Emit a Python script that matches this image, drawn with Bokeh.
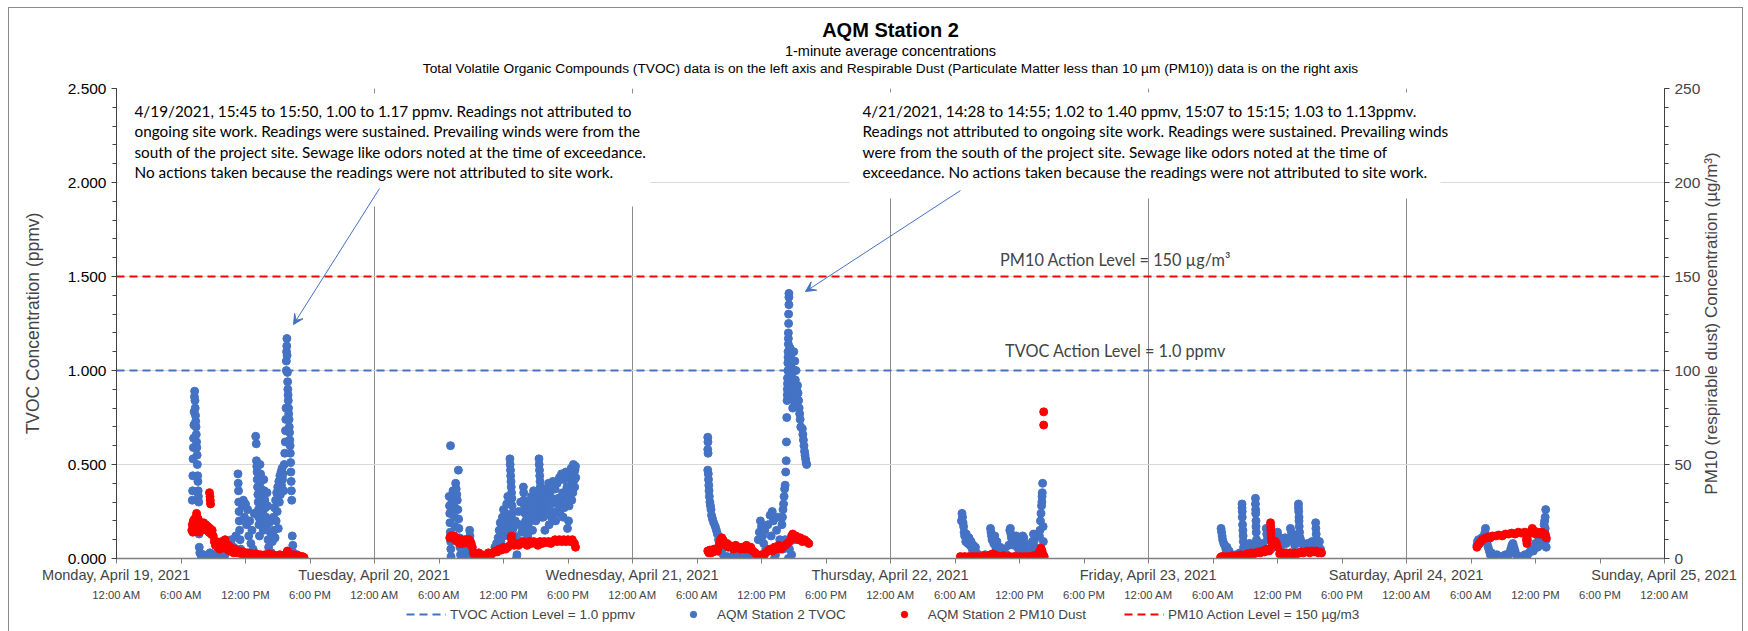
import math
from bokeh.plotting import figure
from bokeh.layouts import column
from bokeh.models import (Range1d, LinearAxis, FixedTicker, NumeralTickFormatter, Title,
                          Legend, LegendItem, Label, Arrow, VeeHead, BoxAnnotation)
from bokeh.embed import file_html
from bokeh.resources import INLINE

# ---------------- data ----------------
day_labels = ["Monday, April 19, 2021", "Tuesday, April 20, 2021", "Wednesday, April 21, 2021",
              "Thursday, April 22, 2021", "Friday, April 23, 2021", "Saturday, April 24, 2021",
              "Sunday, April 25, 2021"]
time_labels = ["12:00 AM", "6:00 AM", "12:00 PM", "6:00 PM"]
tvoc_action_level = 1.0      # ppmv
pm10_action_level = 150      # ug/m3

# (hour of day, TVOC ppmv)
tvoc_mon = [(7.05,0.31),(7.08,0.36),(7.1,0.44),(7.12,0.53),(7.15,0.59),(7.17,0.64),(7.2,0.71),(7.22,0.78),(7.25,0.86),(7.27,0.89),(7.3,0.84),(7.32,0.80),(7.35,0.76),(7.37,0.73),(7.4,0.70),(7.42,0.66),(7.45,0.62),(7.47,0.59),(7.5,0.55),(7.52,0.50),(7.55,0.44),(7.57,0.41),(7.6,0.36),(7.62,0.33),(7.65,0.30),(7.68,0.13),(7.7,0.06),(7.75,0.03),
            (7.9,0.01),(8.1,0.02),(8.3,0.0),(8.5,0.01),(8.7,0.03),(8.9,0.0),(9.1,0.02),(9.3,0.01),(9.5,0.0),(9.7,0.03),(9.9,0.05),(10.1,0.02),(10.3,0.08),(10.5,0.04),(10.7,0.1),(10.9,0.06),(11.1,0.12),
            (11.3,0.45),(11.32,0.40),(11.35,0.36),(11.37,0.30),(11.4,0.25),(11.42,0.20),(11.45,0.15),(11.5,0.10),(11.55,0.05),
            (11.7,0.28),(11.8,0.31),(11.9,0.22),(12.0,0.29),(12.1,0.18),(12.2,0.26),(12.3,0.12),(12.4,0.20),(12.5,0.08),(12.6,0.15),(12.7,0.05),(12.8,0.24),
            (12.95,0.65),(13.0,0.61),(13.02,0.52),(13.05,0.49),(13.08,0.46),(13.1,0.42),(13.12,0.38),(13.15,0.34),(13.18,0.30),(13.2,0.26),(13.22,0.22),(13.25,0.18),(13.3,0.12),(13.35,0.50),(13.4,0.45),(13.42,0.41),(13.45,0.37),(13.5,0.33),(13.55,0.29),(13.6,0.25),(13.62,0.20),(13.65,0.15),(13.7,0.42),(13.75,0.36),(13.8,0.31),(13.85,0.27),(13.9,0.22),(13.95,0.17),(14.0,0.35),(14.05,0.28),(14.1,0.10),(14.15,0.06),(14.2,0.19),(14.3,0.14),(14.4,0.03),(14.5,0.09),
            (14.6,0.22),(14.65,0.15),(14.7,0.27),(14.75,0.11),(14.8,0.31),(14.85,0.20),(14.9,0.35),(14.95,0.25),(15.0,0.38),(15.05,0.16),(15.1,0.41),(15.15,0.30),(15.2,0.44),(15.25,0.34),(15.3,0.46),(15.35,0.39),(15.4,0.48),(15.45,0.42),(15.5,0.45),(15.55,0.36),(15.6,0.50),
            (15.65,0.56),(15.7,0.62),(15.72,0.68),(15.75,0.74),(15.77,0.80),(15.8,1.00),(15.8,1.05),(15.82,1.10),(15.84,1.13),(15.85,1.17),(15.87,1.08),(15.9,0.99),(15.92,0.94),(15.94,0.90),(15.96,0.87),(15.98,0.84),(16.0,0.80),(16.02,0.77),(16.05,0.74),(16.07,0.70),(16.1,0.67),(16.12,0.63),(16.15,0.60),(16.17,0.56),(16.2,0.51),(16.22,0.46),(16.25,0.41),(16.27,0.36),(16.3,0.31),(16.35,0.12),(16.4,0.07),(16.45,0.03),
            (16.6,0.01),(16.8,0.02),(17.0,0.0),(17.2,0.01),(17.4,0.0)]
tvoc_tue = [(7.07,0.60),(6.95,0.33),(6.98,0.28),(7.0,0.24),(7.02,0.19),(7.05,0.14),(7.08,0.09),(7.1,0.05),(7.12,0.01),(7.2,0.30),(7.25,0.26),(7.3,0.36),(7.35,0.32),(7.4,0.28),(7.45,0.22),(7.5,0.17),(7.55,0.40),(7.6,0.37),(7.65,0.34),(7.7,0.31),(7.75,0.26),(7.8,0.47),(7.82,0.21),(7.85,0.16),(7.9,0.11),(7.95,0.06),(8.0,0.02),(8.1,0.07),(8.2,0.0),(8.3,0.04),(8.4,0.01),(8.55,0.03),(8.7,0.0),
            (8.85,0.15),(8.88,0.12),(8.92,0.09),(8.95,0.06),(9.0,0.02),
            (9.2,0.0),(9.4,0.01),(9.6,0.0),(9.8,0.02),(10.0,0.0),(10.2,0.01),(10.4,0.0),(10.6,0.02),(10.8,0.01),(11.0,0.03),(11.2,0.06),(11.35,0.08),
            (11.5,0.11),(11.6,0.15),(11.7,0.19),(11.75,0.09),(11.8,0.13),(11.9,0.22),(11.95,0.16),(12.0,0.26),(12.05,0.12),(12.1,0.2),(12.2,0.24),(12.25,0.15),(12.3,0.29),(12.4,0.33),(12.45,0.18),(12.5,0.22),
            (12.6,0.53),(12.62,0.50),(12.65,0.47),(12.67,0.44),(12.7,0.41),(12.72,0.38),(12.75,0.35),(12.78,0.32),(12.8,0.28),(12.82,0.24),(12.85,0.20),(12.9,0.16),
            (13.0,0.12),(13.1,0.2),(13.2,0.0),(13.25,0.02),(13.3,0.1),(13.4,0.25),(13.5,0.18),(13.6,0.3),(13.7,0.14),
            (13.85,0.38),(13.88,0.35),(13.9,0.31),(13.95,0.28),(14.0,0.24),(14.05,0.2),(14.1,0.16),
            (14.2,0.26),(14.25,0.12),(14.3,0.18),(14.4,0.30),(14.45,0.2),(14.5,0.22),(14.6,0.33),(14.65,0.24),(14.7,0.15),(14.8,0.36),(14.85,0.28),(14.9,0.27),(15.0,0.2),(15.05,0.32),(15.1,0.31),(15.2,0.24),
            (15.3,0.53),(15.32,0.50),(15.35,0.47),(15.37,0.44),(15.4,0.41),(15.42,0.38),(15.45,0.34),(15.48,0.30),(15.5,0.26),(15.55,0.22),
            (15.6,0.35),(15.7,0.22),(15.75,0.28),(15.8,0.3),(15.85,0.15),(15.9,0.37),(16.0,0.25),(16.05,0.31),(16.1,0.33),(16.2,0.4),(16.25,0.18),(16.3,0.28),(16.4,0.36),(16.45,0.22),(16.5,0.32),
            (16.6,0.41),(16.65,0.24),(16.7,0.3),(16.8,0.37),(16.85,0.2),(16.9,0.25),(17.0,0.40),(17.05,0.29),(17.1,0.32),(17.2,0.43),(17.25,0.24),(17.3,0.28),(17.4,0.45),(17.45,0.33),(17.5,0.35),(17.55,0.22),(17.6,0.42),(17.65,0.27),(17.7,0.30),(17.8,0.46),(17.85,0.34),(17.9,0.38),(17.95,0.16),(18.0,0.44),(18.05,0.2),(18.1,0.28),(18.2,0.36),(18.25,0.42),(18.3,0.48),(18.35,0.31),(18.4,0.40),(18.45,0.35),(18.5,0.50),(18.55,0.45),(18.6,0.42),(18.62,0.38),(18.65,0.47),(18.7,0.49),(18.72,0.43)]
tvoc_wed = [(7.0,0.645),(7.02,0.62),(7.0,0.58),(7.03,0.56),(7.0,0.47),(7.05,0.45),(7.07,0.42),(7.1,0.39),(7.12,0.36),(7.15,0.33),(7.2,0.30),(7.25,0.28),(7.3,0.26),(7.35,0.23),(7.45,0.21),(7.55,0.19),(7.7,0.17),(7.8,0.15),(7.9,0.13),(8.0,0.10),(8.1,0.08),(8.2,0.05),(8.3,0.03),
            (8.5,0.0),(8.8,0.01),(9.1,0.0),(9.4,0.02),(9.7,0.0),(10.0,0.01),(10.3,0.0),(10.6,0.02),(10.9,0.0),(11.2,0.01),
            (11.7,0.10),(11.8,0.14),(11.9,0.20),(12.0,0.17),(12.1,0.12),(12.2,0.08),(12.3,0.15),(12.4,0.05),
            (12.6,0.18),(12.8,0.23),(12.9,0.12),(13.0,0.25),(13.1,0.20),(13.2,0.0),(13.3,0.02),(13.4,0.15),(13.5,0.22),(13.7,0.10),
            (13.9,0.18),(13.95,0.22),(14.0,0.26),(14.05,0.29),(14.1,0.33),(14.15,0.37),(14.2,0.39),(14.25,0.46),(14.3,0.52),(14.32,0.62),(14.35,0.75),(14.0,0.05),(14.2,0.10),
            (14.38,0.84),(14.4,0.87),(14.4,0.90),(14.42,0.93),(14.42,0.96),(14.45,1.00),(14.45,1.04),(14.47,1.07),(14.47,1.10),(14.5,1.14),(14.5,1.17),(14.5,1.20),(14.52,1.25),(14.52,1.30),(14.55,1.35),(14.55,1.39),(14.55,1.41),
            (14.65,1.12),(14.7,1.08),(14.75,1.02),(14.8,0.98),(14.85,1.05),(14.9,0.95),(14.95,0.92),(15.0,0.88),(15.05,0.85),(15.1,0.82),(14.7,0.90),(14.8,0.86),(14.9,0.80),(15.0,1.10),(15.1,1.05),(15.2,1.00),(15.15,0.95),(15.25,0.90),(15.3,0.85),
            (15.35,0.92),(15.4,0.88),(15.45,0.84),(15.5,0.80),(15.55,0.77),(15.6,0.74),(15.65,0.70),
            (15.8,0.69),(15.85,0.66),(15.9,0.63),(15.95,0.60),(16.0,0.57),(16.05,0.55),(16.1,0.53),(16.15,0.51),(16.2,0.50),
            (14.5,0.0),(14.6,0.05),(14.8,0.02),(15.0,0.10)]
tvoc_thu = [(6.6,0.20),(6.65,0.24),(6.7,0.22),(6.75,0.19),(6.8,0.17),(6.85,0.14),(6.9,0.12),(7.0,0.09),(7.05,0.13),(7.1,0.10),(7.2,0.08),(7.3,0.11),(7.4,0.07),(7.5,0.09),(7.6,0.05),(7.7,0.07),(7.8,0.04),(7.9,0.06),(8.0,0.03),(8.2,0.02),(8.4,0.0),(8.6,0.01),(8.8,0.02),(9.0,0.0),
            (9.3,0.16),(9.35,0.14),(9.4,0.12),(9.45,0.10),(9.5,0.11),(9.6,0.08),(9.7,0.12),(9.8,0.06),(9.9,0.09),(10.0,0.04),(10.2,0.06),(10.4,0.03),(10.6,0.05),(10.8,0.02),(11.0,0.07),
            (11.1,0.15),(11.15,0.16),(11.2,0.13),(11.25,0.11),(11.3,0.09),(11.4,0.12),(11.5,0.07),(11.6,0.10),(11.7,0.12),(11.8,0.08),(11.9,0.05),(12.0,0.10),(12.1,0.06),(12.2,0.04),(12.3,0.12),(12.4,0.11),(12.5,0.08),(12.6,0.06),(12.8,0.03),(13.0,0.05),(13.2,0.09),(13.3,0.13),(13.4,0.10),(13.5,0.06),(13.6,0.04),
            (13.85,0.12),(13.9,0.15),(13.95,0.20),(14.0,0.24),(14.05,0.28),(14.08,0.30),(14.1,0.33),(14.12,0.35),(14.15,0.40),(14.2,0.17),(14.22,0.09)]
tvoc_fri = [(6.75,0.16),(6.8,0.14),(6.85,0.12),(6.9,0.10),(7.0,0.08),(7.1,0.07),(7.2,0.05),(7.3,0.06),(7.4,0.03),(7.5,0.04),(7.7,0.02),(7.9,0.0),(8.1,0.02),(8.3,0.01),(8.5,0.03),
            (8.7,0.29),(8.7,0.27),(8.72,0.25),(8.72,0.22),(8.75,0.18),(8.78,0.15),(8.8,0.12),(8.82,0.09),(8.85,0.06),(8.9,0.04),
            (9.0,0.07),(9.2,0.05),(9.4,0.08),(9.6,0.04),(9.8,0.06),
            (9.95,0.32),(9.95,0.29),(9.97,0.26),(9.97,0.24),(10.0,0.20),(10.0,0.17),(10.02,0.14),(10.05,0.10),(10.1,0.07),
            (10.3,0.05),(10.5,0.08),(10.7,0.06),(10.95,0.16),(11.0,0.13),(11.05,0.10),
            (11.4,0.05),(11.6,0.07),(11.8,0.10),(12.0,0.14),(12.05,0.12),(12.1,0.08),(12.3,0.06),(12.5,0.09),(12.7,0.11),(12.8,0.08),(12.9,0.10),
            (13.2,0.16),(13.3,0.14),(13.4,0.12),(13.5,0.09),(13.6,0.07),(13.7,0.11),
            (13.95,0.29),(13.95,0.27),(13.97,0.25),(14.0,0.22),(14.0,0.20),(14.02,0.17),(14.05,0.14),(14.1,0.11),(14.2,0.09),(14.4,0.07),(14.6,0.05),(14.8,0.08),(15.0,0.06),(15.2,0.09),
            (15.55,0.19),(15.57,0.16),(15.6,0.13),(15.62,0.10),(15.65,0.08),(15.7,0.06),(15.8,0.04),(15.9,0.09),(16.0,0.05),(16.05,0.03)]
tvoc_sat = [(6.55,0.07),(6.6,0.09),(6.7,0.10),(6.8,0.08),(6.9,0.10),(7.0,0.11),(7.1,0.09),(7.2,0.12),(7.3,0.14),(7.35,0.16),(7.4,0.12),(7.5,0.08),(7.6,0.06),(7.7,0.04),(7.8,0.02),(7.9,0.03),(8.0,0.01),(8.2,0.0),(8.4,0.02),(8.6,0.0),(8.8,0.01),(9.0,0.0),(9.2,0.02),(9.4,0.01),(9.6,0.03),(9.7,0.05),(9.8,0.07),(9.9,0.08),(10.0,0.06),(10.1,0.04),(10.2,0.02),(10.4,0.0),(10.6,0.01),(10.8,0.0),(11.0,0.02),(11.2,0.01),(11.4,0.03),(11.6,0.05),(11.8,0.04),(12.0,0.08),(12.2,0.06),(12.3,0.10),(12.4,0.07),(12.5,0.12),(12.6,0.09),(12.7,0.14),(12.8,0.18),(12.85,0.20),(12.9,0.22),(12.95,0.26),(12.9,0.16),(12.95,0.12),(13.0,0.10),(13.0,0.06)]

# (hour of day, PM10 ug/m3)
pm10_mon = [(7.0,15),(7.05,18),(7.1,14),(7.15,20),(7.2,17),(7.25,21),(7.3,16),(7.35,19),(7.4,22),(7.45,24),(7.5,22),(7.55,19),(7.6,21),(7.65,17),(7.7,14),(7.75,18),(7.8,16),(7.85,19),(7.9,15),(7.95,18),(8.0,17),(8.1,19),(8.2,16),(8.3,18),(8.4,15),(8.5,17),(8.6,14),(8.7,16),(8.8,13),(8.9,15),(9.0,12),(9.1,9),(9.2,7),(9.3,9),(9.4,6),(9.5,8),(9.6,5),(9.7,7),(9.8,9),(9.9,6),(10.0,8),(10.1,10),(10.2,7),(10.3,5),(10.4,7),(10.5,4),(10.6,6),(10.7,4),(10.8,5),(10.9,3),(11.0,5),(11.2,3),(11.4,4),(11.6,2.5),(11.8,3.5),(12.0,2),(12.2,3),(12.4,2),(12.6,2.5),(12.8,1.5),(13.0,2.5),(13.2,1.5),(13.4,2),(13.6,1),(13.8,2),(14.0,1.5),(14.2,2.5),(14.4,1),(14.6,2),(14.8,1.5),(15.0,1),(15.2,2),(15.4,1),(15.6,1.5),(15.8,2.5),(15.9,4),(16.0,3),(16.1,1.5),(16.3,1),(16.5,2),(16.7,0.5),(16.9,1.5),(17.1,0.5),(17.3,1),(17.45,0.5),
            (8.65,35),(8.7,33),(8.72,31),(8.75,29)]
pm10_tue = [(7.0,11),(7.1,12),(7.2,12),(7.3,11),(7.4,12),(7.5,10),(7.6,11),(7.7,9),(7.8,10),(7.9,8),(8.0,9),(8.1,10),(8.2,8),(8.3,9),(8.4,10),(8.5,9),(8.6,10),(8.7,8),(8.8,10),(8.9,9),(9.0,8),(9.1,6),(9.2,3),(9.3,2),(9.4,1),(9.5,2),(9.6,1),(9.7,3),(9.8,2),(9.9,1),(10.0,2),(10.2,1.5),(10.4,2),(10.6,3),(10.8,2),(11.0,3),(11.2,4),(11.4,3.5),(11.6,5),(11.8,4.5),(12.0,6),(12.2,5),(12.4,6),(12.6,7),(12.7,11),(12.75,12),(12.8,9),(13.0,7),(13.2,8),(13.4,7),(13.6,8),(13.8,9),(14.0,8),(14.2,7),(14.4,9),(14.6,8),(14.8,9),(15.0,8),(15.2,7),(15.4,9),(15.6,8),(15.8,9),(16.0,8.5),(16.2,9),(16.4,8),(16.6,9),(16.8,10),(17.0,9),(17.2,10),(17.4,9),(17.6,10),(17.8,9),(18.0,10),(18.2,9),(18.4,10),(18.6,8),(18.7,6)]
pm10_wed = [(7.0,4),(7.1,3),(7.2,4.5),(7.3,3),(7.4,4),(7.5,3.5),(7.6,5),(7.7,4),(7.8,5),(7.9,4),(8.0,6),(8.1,8),(8.2,10),(8.3,11),(8.4,10),(8.5,9),(8.6,8),(8.7,7),(8.8,8),(8.9,6),(9.0,7),(9.2,6),(9.4,5),(9.6,7),(9.8,6),(10.0,5),(10.2,6),(10.4,5),(10.6,7),(10.8,5),(11.0,6),(11.2,4),(11.4,3),(11.6,2),(11.8,1),(12.0,2),(12.2,1),(12.4,3),(12.6,4),(12.8,5),(13.0,4),(13.2,6),(13.4,5),(13.6,7),(13.8,5),(14.0,6),(14.2,7),(14.4,8),(14.6,9),(14.8,12),(14.9,13),(15.0,11),(15.2,12),(15.4,10),(15.6,11),(15.8,9),(16.0,10),(16.2,9),(16.4,8)]
pm10_thu = [(6.5,1),(6.7,0.5),(6.9,1),(7.1,0.5),(7.3,1),(7.5,0.5),(7.7,1),(7.9,0.5),(8.1,1),(8.3,0.5),(8.5,1),(8.7,1.5),(8.9,1),(9.1,1.5),(9.3,2),(9.5,2.5),(9.7,2),(9.9,1.5),(10.1,1),(10.3,1),(10.5,1.5),(10.7,1),(10.9,0.5),(11.1,1),(11.3,0.5),(11.5,1),(11.7,1),(11.9,0.5),(12.1,1),(12.3,0.5),(12.5,1),(12.7,0.5),(12.9,1),(13.1,1),(13.3,1.5),(13.5,1),(13.7,2),(13.8,3),(13.9,4),(14.0,5.5),(14.1,4),(14.2,2),(14.3,1),
            (14.25,78),(14.25,71)]
pm10_fri = [(6.7,0.5),(6.8,1),(6.9,0.5),(7.0,1),(7.2,0.5),(7.4,1),(7.6,1),(7.8,1.5),(8.0,1),(8.2,1.5),(8.4,1),(8.6,2),(8.8,1.5),(9.0,2),(9.2,2.5),(9.4,2),(9.6,3),(9.8,2.5),(10.0,3),(10.2,3.5),(10.4,3),(10.6,4),(10.8,3.5),(11.0,5),(11.2,4),
            (11.35,19),(11.37,17),(11.38,15),(11.4,13),(11.42,11),(11.45,9),(11.5,7),(11.7,8),(11.8,9),(11.9,8),(12.0,6),(12.2,2.5),(12.4,3),(12.6,2),(12.8,3),(13.0,2.5),(13.2,3),(13.4,2),(13.6,3),(13.8,2.5),(14.0,3),(14.2,3.5),(14.4,3),(14.6,3.5),(14.8,4),(15.0,3),(15.2,4),(15.4,3.5),(15.6,4),(15.8,3),(16.0,3.5),(16.1,3)]
pm10_sat = [(6.55,6),(6.65,7),(6.75,8),(6.9,9),(7.05,10),(7.2,10.5),(7.4,11),(7.6,11.5),(7.8,11),(8.0,12),(8.3,12),(8.6,12.5),(8.9,12),(9.2,13),(9.5,13),(9.8,13.5),(10.1,13),(10.4,14),(10.7,13.5),(11.0,14),(11.15,10),(11.2,8),(11.25,10),(11.35,13),(11.5,14),(11.7,16),(11.8,15),(12.0,13),(12.2,14),(12.4,13),(12.6,14),(12.8,12.5),(12.9,13),(13.0,11)]

tvoc_by_day = [tvoc_mon, tvoc_tue, tvoc_wed, tvoc_thu, tvoc_fri, tvoc_sat]
pm10_by_day = [pm10_mon, pm10_tue, pm10_wed, pm10_thu, pm10_fri, pm10_sat]

tvoc_x = [d * 24 + h for d, day in enumerate(tvoc_by_day) for h, v in day]
tvoc_y = [v for day in tvoc_by_day for h, v in day]
pm10_x = [d * 24 + h for d, day in enumerate(pm10_by_day) for h, v in day]
pm10_y = [v for day in pm10_by_day for h, v in day]

# ---------------- layout constants (page pixels) ----------------
X_END = 24 * (len(day_labels) - 1)
FL, FR, FT, FB = 116, 1664, 88, 558
def px_x(px):
    return (px - FL) / (FR - FL) * X_END
def px_y(py):
    return (FB - py) / (FB - FT) * 2.5

ARIAL = "Liberation Sans"
CALIBRI = "Lato"
BLUE = "#4472C4"
RED = "#FF0000"

TOTAL_W = 1733
B_LEFT, B_RIGHT, B_TOP, B_BOTTOM = 107, 78, 80, 42
LEG_H = 28
LEG_X = 290   # legend start inside the (centred) legend strip

p = figure(frame_width=FR - FL, frame_height=FB - FT, x_range=Range1d(0, X_END), y_range=Range1d(0, 2.5),
           output_backend="svg", toolbar_location=None,
           min_border_left=B_LEFT, min_border_right=B_RIGHT, min_border_top=B_TOP, min_border_bottom=B_BOTTOM)
p.outline_line_color = None
p.background_fill_color = "white"
p.extra_y_ranges = {"pm": Range1d(0, 250)}

# titles (added from the plot outward); first one is an empty spacer
p.add_layout(Title(text=" ", text_font_size="2px", standoff=9), "above")
for txt, size, style in [
        ("Total Volatile Organic Compounds (TVOC) data is on the left axis and Respirable Dust (Particulate Matter less than 10 µm (PM10)) data is on the right axis", "13.7px", "normal"),
        ("1-minute average concentrations", "14.5px", "normal"),
        ("AQM Station 2", "20px", "bold")]:
    p.add_layout(Title(text=txt, align="center", text_font=ARIAL, text_font_size=size,
                       text_font_style=style, standoff=0, text_color="#000000"), "above")

# left axis
ya = p.yaxis[0]
ya.ticker = FixedTicker(ticks=[0, 0.5, 1.0, 1.5, 2.0, 2.5],
                        minor_ticks=[i / 10 for i in range(26)])
ya.formatter = NumeralTickFormatter(format="0.000")
ya.axis_label = "TVOC Concentration (ppmv)"
ya.axis_label_text_font = ARIAL
ya.axis_label_text_font_style = "normal"
ya.axis_label_text_font_size = "17.5px"
ya.axis_label_standoff = 22
ya.major_label_text_font = ARIAL
ya.major_label_text_font_size = "15.5px"
ya.major_label_text_color = "#000000"
ya.axis_line_color = "#404040"
ya.major_tick_line_color = "#404040"
ya.minor_tick_line_color = "#404040"
ya.major_tick_out = 5
ya.major_tick_in = 0
ya.minor_tick_out = 4
ya.minor_tick_in = 0
ya.major_label_standoff = 5

# right axis
ra = LinearAxis(y_range_name="pm",
                ticker=FixedTicker(ticks=[0, 50, 100, 150, 200, 250],
                                   minor_ticks=list(range(0, 251, 10))))
ra.major_label_text_font = ARIAL
ra.major_label_text_font_size = "15.5px"
ra.axis_line_color = "#404040"
ra.major_tick_line_color = "#404040"
ra.minor_tick_line_color = "#404040"
ra.major_tick_out = 5
ra.major_tick_in = 0
ra.minor_tick_out = 4
ra.minor_tick_in = 0
ra.major_label_standoff = 5
p.add_layout(ra, "right")

# secondary-axis title, placed in the right side panel (reads bottom to top)
p.add_layout(Label(x=px_x(1711), y=px_y((FT + FB) / 2),
                   text="PM10 (respirable dust) Concentration (µg/m³)", text_font=ARIAL,
                   text_font_size="17px", angle=math.pi / 2, text_align="center",
                   text_baseline="middle"), "right")

# x axes: day labels (first row) and time labels (second row)
six_hours = list(range(0, X_END + 1, 6))
xa = p.xaxis[0]
xa.ticker = FixedTicker(ticks=six_hours)
xa.major_label_overrides = {t: (day_labels[t // 24] if t % 24 == 0 else "") for t in six_hours}
xa.major_label_text_font = ARIAL
xa.major_label_text_font_size = "14.6px"
xa.axis_line_color = "#7f7f7f"
xa.axis_line_width = 1.5
xa.major_tick_line_color = "#7f7f7f"
xa.major_tick_out = 5
xa.major_tick_in = 0
xa.minor_tick_line_color = None
xa.major_label_standoff = 3

ta = LinearAxis(ticker=FixedTicker(ticks=six_hours))
ta.major_label_overrides = {t: time_labels[(t % 24) // 6] for t in six_hours}
ta.major_label_text_font = ARIAL
ta.major_label_text_font_size = "11.3px"
ta.axis_line_color = None
ta.major_tick_line_color = None
ta.minor_tick_line_color = None
ta.major_tick_out = 0
ta.major_tick_in = 0
ta.major_label_standoff = 3
p.add_layout(ta, "below")

# grids
p.ygrid.grid_line_color = "#d9d9d9"
p.ygrid.grid_line_width = 1
p.xgrid.ticker = FixedTicker(ticks=list(range(0, X_END + 1, 24)))
p.xgrid.grid_line_color = "#8c8c8c"
p.xgrid.grid_line_width = 1

# series
x_ends = [0, X_END]
tvoc_line_style = dict(line_color=BLUE, line_width=2, line_dash="8 5")
pm10_line_style = dict(line_color=RED, line_width=2, line_dash="8 5")
tvoc_pt_style = dict(marker="circle", size=8, fill_color=BLUE, line_color=BLUE)
pm10_pt_style = dict(marker="circle", size=8, fill_color=RED, line_color=RED)
p.line(x_ends, [tvoc_action_level] * 2, **tvoc_line_style)
p.scatter(tvoc_x, tvoc_y, **tvoc_pt_style)
p.scatter(pm10_x, pm10_y, y_range_name="pm", **pm10_pt_style)
p.line(x_ends, [pm10_action_level] * 2, y_range_name="pm", **pm10_line_style)

# annotation boxes
for l, r, t, b in [(118, 650, 93, 206), (849, 1440, 92, 198)]:
    p.add_layout(BoxAnnotation(left=px_x(l), right=px_x(r), top=px_y(t), bottom=px_y(b),
                               fill_color="white", fill_alpha=1.0, line_color=None))

box1 = ["4/19/2021, 15:45 to 15:50, 1.00 to 1.17 ppmv. Readings not attributed to",
        "ongoing site work. Readings were sustained. Prevailing winds were from the",
        "south of the project site. Sewage like odors noted at the time of exceedance.",
        "No actions taken because the readings were not attributed to site work."]
box2 = ["4/21/2021, 14:28 to 14:55; 1.02 to 1.40 ppmv, 15:07 to 15:15; 1.03 to 1.13ppmv.",
        "Readings not attributed to ongoing site work. Readings were sustained. Prevailing winds",
        "were from the south of the project site. Sewage like odors noted at the time of",
        "exceedance. No actions taken because the readings were not attributed to site work."]
for x0, lines in [(134, box1), (862, box2)]:
    for i, line in enumerate(lines):
        p.add_layout(Label(x=px_x(x0), y=px_y(110 + 20.5 * i), text=line, text_font=CALIBRI,
                           text_font_size="15.3px", text_baseline="middle", text_align="left",
                           text_color="#000000"))

# arrows
for (x0, y0, x1, y1) in [(379, 188, 293, 324), (960, 190, 805, 291)]:
    p.add_layout(Arrow(x_start=px_x(x0), y_start=px_y(y0), x_end=px_x(x1), y_end=px_y(y1),
                       line_color=BLUE, line_width=1,
                       end=VeeHead(size=10, fill_color=BLUE, line_color=BLUE, line_width=1)))

# action-level labels
p.add_layout(Label(x=px_x(1115), y=px_y(259), text="PM10 Action Level = 150 µg/m³", text_font=CALIBRI,
                   text_font_size="16.3px", text_align="center", text_baseline="middle"))
p.add_layout(Label(x=px_x(1115), y=px_y(350), text="TVOC Action Level = 1.0 ppmv", text_font=CALIBRI,
                   text_font_size="16.3px", text_align="center", text_baseline="middle"))

# legend strip below the chart
lf = figure(width=TOTAL_W, height=LEG_H, x_range=Range1d(0, 1), y_range=Range1d(0, 1),
            output_backend="svg", toolbar_location=None, x_axis_location=None, y_axis_location=None,
            min_border=0)
lf.outline_line_color = None
lf.xgrid.visible = False
lf.ygrid.visible = False
off = [-5, -4]
l1 = lf.line(off, off, **tvoc_line_style)
l2 = lf.scatter(off, off, **tvoc_pt_style)
l3 = lf.scatter(off, off, **pm10_pt_style)
l4 = lf.line(off, off, **pm10_line_style)
legend = Legend(items=[LegendItem(label="TVOC Action Level = 1.0 ppmv", renderers=[l1]),
                       LegendItem(label="AQM Station 2 TVOC", renderers=[l2]),
                       LegendItem(label="AQM Station 2 PM10 Dust", renderers=[l3]),
                       LegendItem(label="PM10 Action Level = 150 µg/m3", renderers=[l4])],
                orientation="horizontal", location=(LEG_X, 9), border_line_color=None,
                background_fill_alpha=0, label_text_font=ARIAL, label_text_font_size="13.5px",
                glyph_width=40, glyph_height=16, label_height=16, label_standoff=4,
                spacing=38, padding=0, margin=0)
lf.add_layout(legend, "center")

layout = column(p, lf)
layout.styles = {"border": "1px solid #8c8c8c", "margin-left": "8px", "margin-top": "7px"}

open("out.html", "w").write(file_html(layout, INLINE))
